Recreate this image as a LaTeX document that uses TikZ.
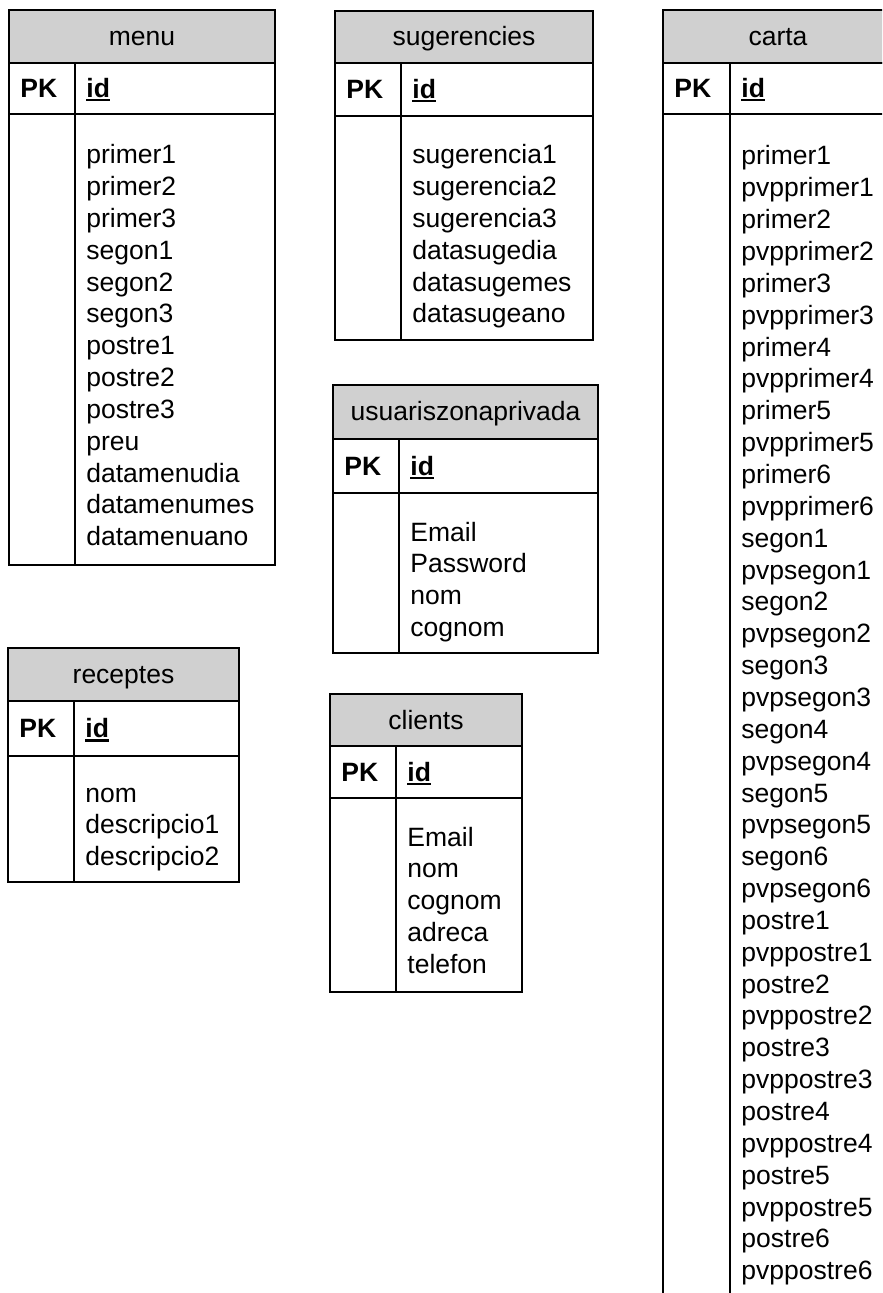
\documentclass[tikz,border=0pt]{standalone}
\usepackage{fontspec}
\setmainfont{Liberation Sans}

\definecolor{hdrgray}{RGB}{208,208,208}
\newcommand{\keyul}[1]{\setbox0\hbox{#1}\rlap{\vrule height -0.9pt depth 2pt width \wd0}\box0}
\tikzset{
    tbl/.style={draw, line width=1pt},
    hdr/.style={draw, line width=1pt, fill=hdrgray},
    tblname/.style={anchor=base, inner sep=0pt, font=\fontsize{13.25}{15.9}\selectfont},
    pkey/.style={anchor=base west, inner sep=0pt, font=\fontsize{13.25}{15.9}\selectfont\bfseries},
    field/.style={anchor=base west, inner sep=0pt, font=\fontsize{13.25}{15.9}\selectfont}
}

\begin{document}
\begin{tikzpicture}[x=0.5pt, y=-0.5pt]
\useasboundingbox (0,0) rectangle (882,1293);
\clip (0,0) rectangle (882,1293);

% menu
\draw[hdr] (9,10) rectangle (275,63);
\draw[tbl] (9,63) rectangle (275,565);
\draw[tbl] (9,114)--(275,114) (75,63)--(75,565);
\node[tblname] (menu) at (142,45.5) {menu};
\node[pkey] (menu-pk) at (20,97.5) {PK};
\node[pkey] (menu-id) at (86,97.5) {\keyul{id}};
\foreach \f [count=\i from 0] in {primer1,primer2,primer3,segon1,segon2,segon3,postre1,postre2,postre3,preu,datamenudia,datamenumes,datamenuano}
    \node[field] (menu-\i) at (86,{164+\i*31.8}) {\f};

% sugerencies
\draw[hdr] (335,11) rectangle (593,63);
\draw[tbl] (335,63) rectangle (593,340);
\draw[tbl] (335,116)--(593,116) (401,63)--(401,340);
\node[tblname] (sug) at (464,46) {sugerencies};
\node[pkey] (sug-pk) at (346,98.5) {PK};
\node[pkey] (sug-id) at (412,98.5) {\keyul{id}};
\foreach \f [count=\i from 0] in {sugerencia1,sugerencia2,sugerencia3,datasugedia,datasugemes,datasugeano}
    \node[field] (sug-\i) at (412,{164+\i*31.8}) {\f};

% carta
\draw[hdr] (663,10) rectangle (893,63);
\draw[tbl] (663,63) rectangle (893,1310);
\draw[tbl] (663,114)--(893,114) (730,63)--(730,1310);
\node[tblname] (carta) at (778,45.5) {carta};
\node[pkey] (carta-pk) at (674,97.5) {PK};
\node[pkey] (carta-id) at (741,97.5) {\keyul{id}};
\foreach \f [count=\i from 0] in {primer1,pvpprimer1,primer2,pvpprimer2,primer3,pvpprimer3,primer4,pvpprimer4,primer5,pvpprimer5,primer6,pvpprimer6,segon1,pvpsegon1,segon2,pvpsegon2,segon3,pvpsegon3,segon4,pvpsegon4,segon5,pvpsegon5,segon6,pvpsegon6,postre1,pvppostre1,postre2,pvppostre2,postre3,pvppostre3,postre4,pvppostre4,postre5,pvppostre5,postre6,pvppostre6}
    \node[field] (carta-\i) at (741,{165+\i*31.85}) {\f};

% usuariszonaprivada
\draw[hdr] (333,385) rectangle (598,439);
\draw[tbl] (333,439) rectangle (598,653);
\draw[tbl] (333,493)--(598,493) (399,439)--(399,653);
\node[tblname] (usu) at (465.5,421) {usuariszonaprivada};
\node[pkey] (usu-pk) at (344,475) {PK};
\node[pkey] (usu-id) at (410,475) {\keyul{id}};
\foreach \f [count=\i from 0] in {Email,Password,nom,cognom}
    \node[field] (usu-\i) at (410,{541+\i*31.8}) {\f};

% receptes
\draw[hdr] (8,648) rectangle (239,701);
\draw[tbl] (8,701) rectangle (239,882);
\draw[tbl] (8,756)--(239,756) (74,701)--(74,882);
\node[tblname] (rec) at (123.5,683.5) {receptes};
\node[pkey] (rec-pk) at (19,737.5) {PK};
\node[pkey] (rec-id) at (85,737.5) {\keyul{id}};
\foreach \f [count=\i from 0] in {nom,descripcio1,descripcio2}
    \node[field] (rec-\i) at (85,{802+\i*31.8}) {\f};

% clients
\draw[hdr] (330,694) rectangle (522,746);
\draw[tbl] (330,746) rectangle (522,992);
\draw[tbl] (330,798)--(522,798) (396,746)--(396,992);
\node[tblname] (cli) at (426,729) {clients};
\node[pkey] (cli-pk) at (341,781) {PK};
\node[pkey] (cli-id) at (407,781) {\keyul{id}};
\foreach \f [count=\i from 0] in {Email,nom,cognom,adreca,telefon}
    \node[field] (cli-\i) at (407,{846+\i*31.8}) {\f};

\end{tikzpicture}
\end{document}
